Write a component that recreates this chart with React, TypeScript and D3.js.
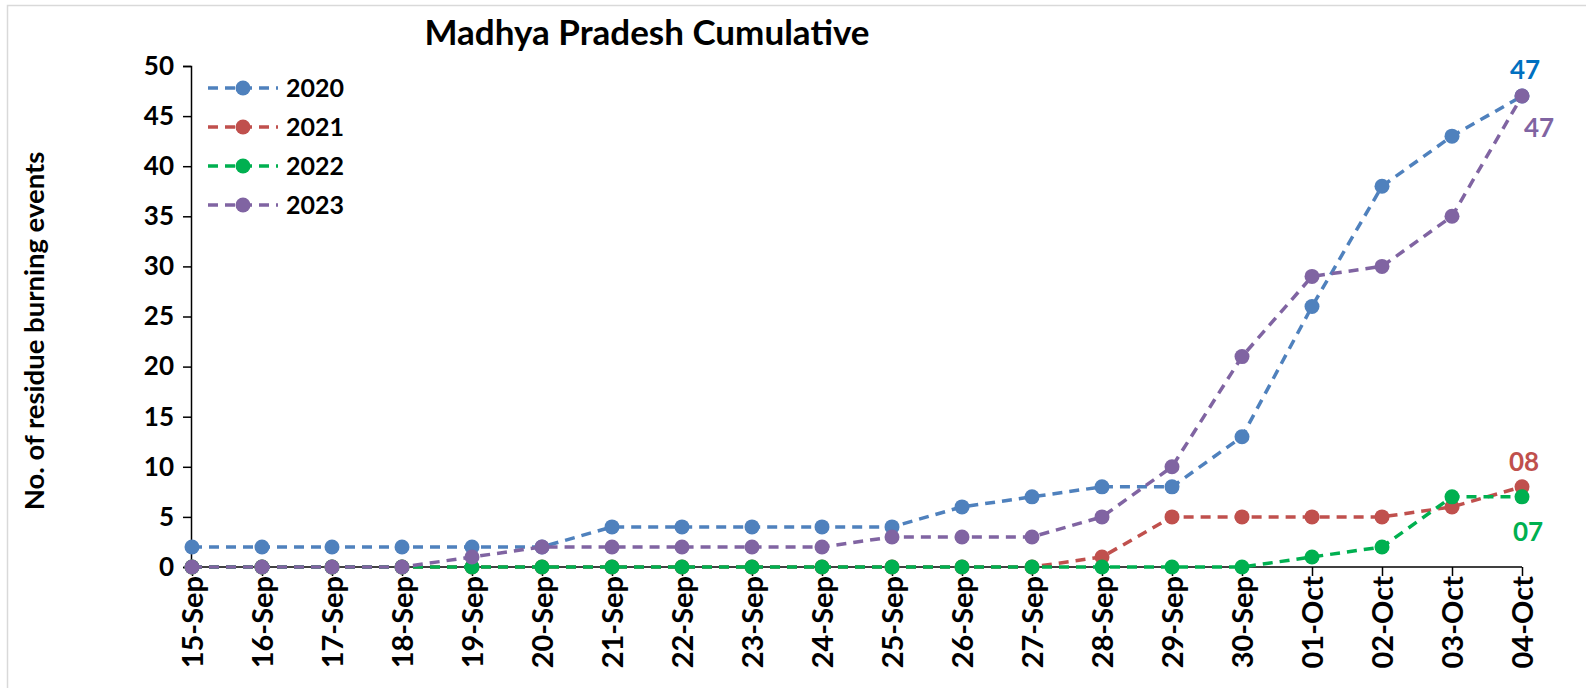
import * as d3 from "d3";
import { useEffect, useRef } from "react";

const dates = [
  "15-Sep", "16-Sep", "17-Sep", "18-Sep", "19-Sep", "20-Sep", "21-Sep",
  "22-Sep", "23-Sep", "24-Sep", "25-Sep", "26-Sep", "27-Sep", "28-Sep",
  "29-Sep", "30-Sep", "01-Oct", "02-Oct", "03-Oct", "04-Oct",
];
const y2020 = [2, 2, 2, 2, 2, 2, 4, 4, 4, 4, 4, 6, 7, 8, 8, 13, 26, 38, 43, 47];
const y2021 = [0, 0, 0, 0, 0, 0, 0, 0, 0, 0, 0, 0, 0, 1, 5, 5, 5, 5, 6, 8];
const y2022 = [0, 0, 0, 0, 0, 0, 0, 0, 0, 0, 0, 0, 0, 0, 0, 0, 1, 2, 7, 7];
const y2023 = [0, 0, 0, 0, 1, 2, 2, 2, 2, 2, 3, 3, 3, 5, 10, 21, 29, 30, 35, 47];
const yTicks = [0, 5, 10, 15, 20, 25, 30, 35, 40, 45, 50];

const seriesList = [
  { name: "2020", values: y2020, color: "#4F81BD" },
  { name: "2021", values: y2021, color: "#C0504D" },
  { name: "2022", values: y2022, color: "#00B050" },
  { name: "2023", values: y2023, color: "#8064A2" },
];

// end labels (last point)
const endLabels = [
  { text: "47", color: "#0070C0", dx: 3, dy: -17 },
  { text: "47", color: "#8064A2", dx: 17, dy: 41, series: 3 },
  { text: "08", color: "#C0504D", dx: 2, dy: -16, series: 1 },
  { text: "07", color: "#00B050", dx: 6, dy: 44, series: 2 },
];

const FONT = "Lato, 'Open Sans', sans-serif";

export default function App() {
  const svgRef = useRef<SVGSVGElement>(null);

  useEffect(() => {
    const w = 1586;
    const h = 688;
    const svg = d3.select(svgRef.current).attr("width", w).attr("height", h);
    svg.selectAll("*").remove();

    svg.append("rect").attr("width", w).attr("height", h).attr("fill", "#fff");
    // chart border (only top/left visible)
    svg
      .append("rect")
      .attr("x", 7.5)
      .attr("y", 5.5)
      .attr("width", w)
      .attr("height", h)
      .attr("fill", "none")
      .attr("stroke", "#d9d9d9")
      .attr("stroke-width", 1.5);

    const x = d3.scalePoint().domain(dates).range([192, 1522]);
    const y = d3.scaleLinear().domain([0, 50]).range([567, 66]);

    //title
    svg
      .append("text")
      .attr("x", 647)
      .attr("y", 45)
      .attr("text-anchor", "middle")
      .attr("font-family", FONT)
      .attr("font-weight", 700)
      .attr("font-size", 35)
      .text("Madhya Pradesh Cumulative");

    //y axis
    const yAxis = svg
      .append("g")
      .attr("transform", `translate(191,0)`)
      .call(d3.axisLeft(y).tickValues(yTicks).tickSize(8).tickPadding(9));
    yAxis.select(".domain").attr("stroke", "#000").attr("stroke-width", 1.5);
    yAxis.selectAll(".tick line").attr("stroke", "#000").attr("stroke-width", 1.5);
    yAxis
      .selectAll(".tick text")
      .attr("font-family", FONT)
      .attr("font-weight", 700)
      .attr("font-size", 26)
      .attr("fill", "#000");

    //x axis
    const xAxis = svg
      .append("g")
      .attr("transform", `translate(0,${y(0)})`)
      .call(d3.axisBottom(x).tickSize(9).tickPadding(6).tickSizeOuter(0));
    xAxis
      .select(".domain")
      .attr("d", `M191,0H${x("04-Oct")}`)
      .attr("stroke", "#000")
      .attr("stroke-width", 1.5);
    xAxis.selectAll(".tick line").attr("stroke", "#000").attr("stroke-width", 1.5);
    xAxis
      .selectAll(".tick text")
      .attr("font-family", FONT)
      .attr("font-weight", 700)
      .attr("font-size", 29)
      .attr("fill", "#000")
      .attr("transform", "rotate(-90)")
      .attr("text-anchor", "end")
      .attr("dy", "0.36em")
      .attr("x", -9)
      .attr("y", 0);

    //y label
    svg
      .append("text")
      .attr("transform", `translate(33,331) rotate(-90)`)
      .attr("text-anchor", "middle")
      .attr("dominant-baseline", "central")
      .attr("font-family", FONT)
      .attr("font-weight", 700)
      .attr("font-size", 27.5)
      .text("No. of residue burning events");

    //lines
    const line = d3
      .line<number>()
      .x((_, i) => x(dates[i]) as number)
      .y((d) => y(d));

    seriesList.forEach((s) => {
      const g = svg.append("g");
      g.append("path")
        .attr("d", line(s.values))
        .attr("fill", "none")
        .attr("stroke", s.color)
        .attr("stroke-width", 3.5)
        .attr("stroke-dasharray", "10 7");
      g.selectAll("circle")
        .data(s.values)
        .join("circle")
        .attr("cx", (_, i) => x(dates[i]) as number)
        .attr("cy", (d) => y(d))
        .attr("r", 7.5)
        .attr("fill", s.color);
    });

    //end labels
    const last = dates[dates.length - 1];
    endLabels.forEach((l) => {
      const s = seriesList[l.series ?? 0];
      svg
        .append("text")
        .attr("x", (x(last) as number) + l.dx)
        .attr("y", y(s.values[s.values.length - 1]) + l.dy)
        .attr("text-anchor", "middle")
        .attr("font-family", FONT)
        .attr("font-weight", 700)
        .attr("font-size", 26)
        .attr("fill", l.color)
        .text(l.text);
    });

    //legend
    const legend = svg.append("g").attr("transform", "translate(208,88)");
    seriesList.forEach((s, i) => {
      const row = legend.append("g").attr("transform", `translate(0,${i * 39})`);
      row
        .append("line")
        .attr("x1", 0)
        .attr("x2", 70)
        .attr("stroke", s.color)
        .attr("stroke-width", 3.5)
        .attr("stroke-dasharray", "10 7");
      row.append("circle").attr("cx", 35).attr("r", 7.5).attr("fill", s.color);
      row
        .append("text")
        .attr("x", 78)
        .attr("dy", "0.36em")
        .attr("font-family", FONT)
        .attr("font-weight", 700)
        .attr("font-size", 25)
        .text(s.name);
    });
  }, []);

  return (
    <div style={{ position: "fixed", left: 0, top: 0 }}>
      <svg ref={svgRef} style={{ display: "block" }}></svg>
    </div>
  );
}
